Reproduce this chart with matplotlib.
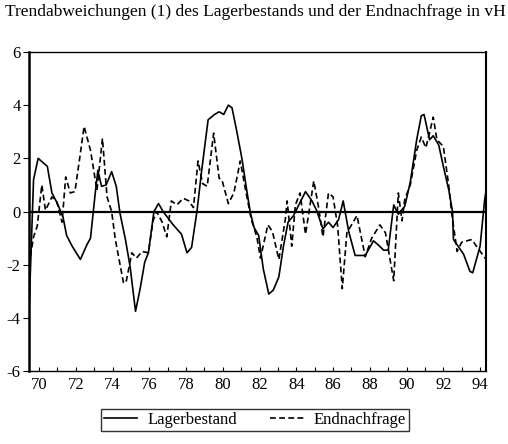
import numpy as np
import matplotlib
matplotlib.use("Agg")
import matplotlib.pyplot as plt

plt.rcParams['font.family'] = ['Liberation Serif', 'DejaVu Serif']

# Lagerbestand (solid): year, deviation in vH
lager_years = [69.45, 69.7, 69.95, 70.45, 70.7, 71.0, 71.3, 71.5, 71.8, 72.25,
               72.6, 72.8, 73.05, 73.2, 73.4, 73.65, 73.95, 74.2, 74.4, 74.7,
               74.95, 75.25, 75.5, 75.75, 75.95, 76.25, 76.5, 76.75, 77.3, 77.75,
               78.05, 78.3, 78.6, 78.85, 79.2, 79.55, 79.8, 80.05, 80.3, 80.5,
               80.75, 81.05, 81.3, 81.5, 81.7, 81.95, 82.2, 82.5, 82.75, 83.05,
               83.3, 83.55, 83.85, 84.1, 84.5, 84.85, 85.1, 85.45, 85.75, 86.0,
               86.3, 86.55, 86.85, 87.2, 87.75, 88.2, 88.45, 88.75, 89.0, 89.3,
               89.55, 89.9, 90.2, 90.55, 90.8, 90.95, 91.25, 91.45, 91.75, 92.0,
               92.3, 92.5, 92.55, 92.8, 93.1, 93.45, 93.6, 94.0, 94.25, 94.33]
lager = [-3.8, 1.2, 2.0, 1.7, 0.7, 0.3, -0.2, -0.9, -1.3, -1.8,
         -1.25, -1.0, 0.65, 1.55, 0.95, 1.0, 1.5, 0.95, -0.05, -1.05,
         -2.05, -3.75, -2.9, -1.9, -1.55, 0.0, 0.3, 0.0, -0.5, -0.85,
         -1.55, -1.35, 0.05, 1.55, 3.45, 3.65, 3.75, 3.65, 4.0, 3.9,
         3.05, 1.95, 0.8, -0.05, -0.6, -0.9, -2.15, -3.1, -2.95, -2.45,
         -1.3, -0.4, -0.15, 0.2, 0.75, 0.4, 0.05, -0.65, -0.4, -0.6,
         -0.3, 0.4, -0.75, -1.65, -1.65, -1.1, -1.25, -1.45, -1.45, 0.25,
         -0.1, 0.2, 1.1, 2.7, 3.6, 3.65, 2.7, 2.85, 2.5, 1.7,
         0.8, 0.0, -1.05, -1.3, -1.6, -2.25, -2.3, -1.3, 0.45, 0.8]

# Endnachfrage (dashed)
nach_years = [69.45, 69.5, 69.7, 69.9, 70.15, 70.35, 70.7, 70.95, 71.25, 71.45,
              71.7, 71.95, 72.2, 72.45, 72.8, 73.15, 73.45, 73.7, 73.95, 74.15,
              74.6, 74.75, 75.05, 75.3, 75.6, 75.95, 76.2, 76.4, 76.7, 76.95,
              77.2, 77.5, 77.85, 78.15, 78.4, 78.65, 78.9, 79.15, 79.5, 79.8,
              79.95, 80.3, 80.6, 80.95, 81.2, 81.55, 81.85, 82.05, 82.45, 82.7,
              83.05, 83.4, 83.5, 83.75, 83.95, 84.2, 84.5, 84.95, 85.2, 85.45,
              85.75, 86.0, 86.25, 86.5, 86.75, 87.3, 87.75, 88.1, 88.55, 88.85,
              89.3, 89.55, 89.75, 89.9, 90.2, 90.55, 90.8, 91.05, 91.45, 91.65,
              92.0, 92.3, 92.45, 92.75, 93.0, 93.55, 93.8, 94.33]
nach = [-4.1, -1.8, -0.95, -0.55, 1.0, 0.05, 0.55, 0.4, -0.4, 1.3,
        0.7, 0.75, 1.95, 3.2, 2.3, 0.8, 2.75, 0.55, 0.0, -1.05,
        -2.7, -2.6, -1.55, -1.75, -1.5, -1.55, -0.35, 0.0, -0.4, -0.95,
        0.4, 0.25, 0.5, 0.4, 0.15, 1.9, 1.05, 0.95, 2.95, 1.25,
        1.2, 0.3, 0.7, 1.9, 0.95, -0.3, -0.95, -1.75, -0.5, -0.75,
        -1.8, -0.3, 0.4, -1.3, 0.25, 0.7, -0.85, 1.15, 0.2, -0.95,
        0.7, 0.55, -0.55, -2.9, -0.8, -0.15, -1.7, -1.0, -0.5, -0.8,
        -2.6, 0.7, -0.35, 0.45, 1.0, 2.3, 2.8, 2.4, 3.55, 2.7,
        2.45, 0.95, -0.05, -1.5, -1.15, -1.05, -1.3, -1.8]

x_major = np.arange(70, 95, 2)
x_minor = np.arange(70, 95, 1)
y_ticks = [-6, -4, -2, 0, 2, 4, 6]

fig = plt.figure(figsize=(5.08, 4.44), dpi=100)
ax = fig.add_axes([0.057, 0.164, 0.9, 0.719])

ax.axhline(0, color='black', lw=1.6, zorder=1)
l1, = ax.plot(lager_years, lager, color='black', lw=1.2, label='Lagerbestand', zorder=3)
l2, = ax.plot(nach_years, nach, color='black', lw=1.2, ls=(0, (3.5, 2)), label='Endnachfrage', zorder=2)

ax.set_xlim(69.45, 94.33)
ax.set_ylim(-6, 6)
ax.set_yticks(y_ticks)
ax.set_yticklabels([str(v) for v in y_ticks])
ax.set_xticks(x_minor)
ax.set_xticklabels([str(v) if v % 2 == 0 else '' for v in x_minor])
ax.tick_params(axis='x', direction='in', length=3, labelsize=12, pad=4)
ax.tick_params(axis='y', direction='out', length=4, labelsize=12, pad=2)

ax.spines['left'].set_linewidth(1.8)
ax.spines['right'].set_linewidth(1.5)
ax.spines['top'].set_linewidth(1.0)
ax.spines['bottom'].set_linewidth(1.0)

fig.text(0.01, 0.972, 'Trendabweichungen (1) des Lagerbestands und der Endnachfrage in vH',
         fontsize=12.5, va='center', ha='left')

leg = fig.legend(handles=[l1, l2], loc='center', bbox_to_anchor=(0.502, 0.054), ncol=2,
                 fontsize=12, frameon=True, fancybox=False, edgecolor='black',
                 handlelength=2.0, columnspacing=2.0, borderpad=0.2, handletextpad=0.6)
leg.get_frame().set_linewidth(1.0)

fig.savefig('out.png', dpi=100)
